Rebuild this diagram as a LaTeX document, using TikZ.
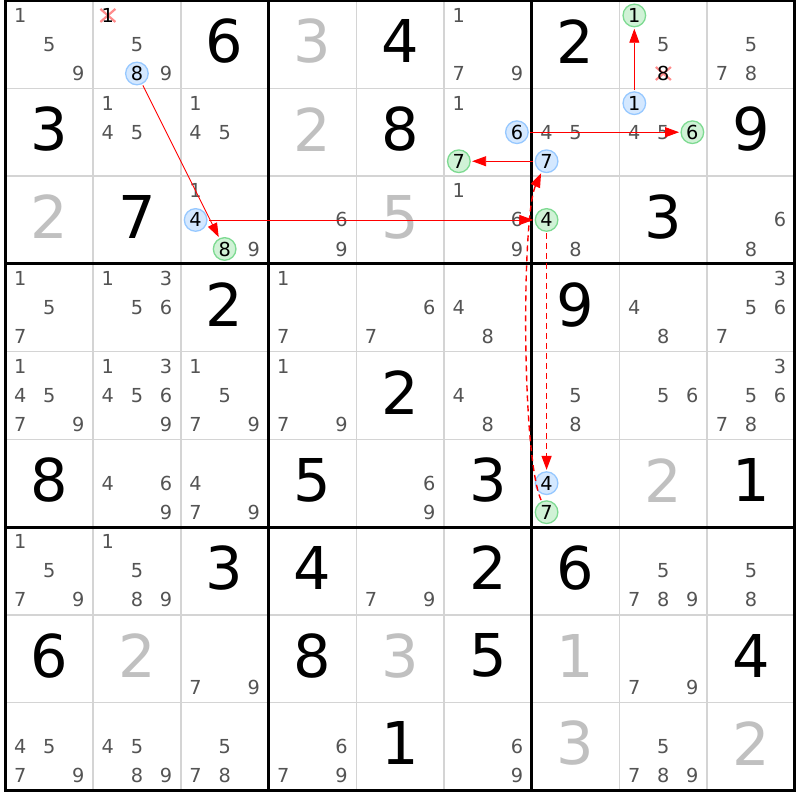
\documentclass[tikz,border=0pt]{standalone}
\usepackage{fontspec}
\setmainfont{DejaVu Sans}
\usetikzlibrary{arrows.meta}
\definecolor{candgray}{RGB}{84,84,84}
\definecolor{givgray}{RGB}{192,192,192}
\definecolor{gridgray}{RGB}{212,212,212}
\definecolor{bfill}{RGB}{212,232,255}
\definecolor{bdraw}{RGB}{150,200,255}
\definecolor{gfill}{RGB}{208,242,214}
\definecolor{gdraw}{RGB}{125,218,145}
\definecolor{linkred}{RGB}{255,0,0}
\definecolor{xred}{RGB}{255,140,140}
% candidates: row, col, list
\newcommand\cnd[3]{%
  \foreach \d in {#3}{%
    \pgfmathsetmacro\ox{#2+0.5+(mod(\d-1,3)-1)*0.3308}%
    \pgfmathsetmacro\oy{#1+0.5+(floor((\d-1)/3)-1)*0.3308}%
    \node[cand] (k#1#2\d) at (\ox,\oy) {\d};}}
% circled candidate: style, row, col, digit, name
\newcommand\circd[5]{%
  \pgfmathsetmacro\ox{#3+0.5+(mod(#4-1,3)-1)*0.3308}%
  \pgfmathsetmacro\oy{#2+0.5+(floor((#4-1)/3)-1)*0.3308}%
  \node[#1] (#5) at (\ox,\oy) {#4};}
% crossed-out candidate: row, col, digit, name
\newcommand\xcand[4]{%
  \pgfmathsetmacro\ox{#2+0.5+(mod(#3-1,3)-1)*0.3308}%
  \pgfmathsetmacro\oy{#1+0.5+(floor((#3-1)/3)-1)*0.3308}%
  \coordinate (#4) at (\ox,\oy);
  \draw[xred,line width=2.2pt] (#4) ++(-7.5pt,6.5pt) -- ++(15pt,-13pt);
  \draw[xred,line width=2.2pt] (#4) ++(-7.5pt,-6.5pt) -- ++(15pt,13pt);
  \node[cand,text=black] (#4d) at (#4) {#3};}
\begin{document}
\begin{tikzpicture}[x=87.74pt,y=-87.74pt,
  cand/.style={inner sep=0pt,text=candgray,font=\fontsize{19.3}{21}\selectfont},
  bigd/.style={inner sep=0pt,font=\fontsize{59}{62}\selectfont},
  bluec/.style={circle,draw=bdraw,fill=bfill,line width=1.3pt,minimum size=22.6pt,
    inner sep=0pt,outer sep=2pt,font=\fontsize{19.3}{21}\selectfont},
  greenc/.style={bluec,draw=gdraw,fill=gfill},
  link/.style={draw=linkred,line width=0.9pt,-{Triangle[length=14pt,width=10pt]}},
  dlink/.style={link,line width=1.4pt,dash pattern=on 6pt off 4pt}]
\fill[white] (-5.3pt,0.6pt) rectangle ++(800pt,-800pt);
\useasboundingbox (-5.3pt,0.6pt) rectangle ++(800pt,-800pt);
% grid
\foreach \i in {1,2,4,5,7,8}{
  \draw[gridgray,line width=1.5pt] (\i,0) -- (\i,9);
  \draw[gridgray,line width=1.5pt] (0,\i) -- (9,\i);}
\foreach \i in {3,6}{
  \draw[black,line width=3pt] (\i,0) -- (\i,9);
  \draw[black,line width=3pt] (0,\i) -- (9,\i);}
\draw[black,line width=3pt] (0,0) rectangle (9,9);
% solved / given digits
\foreach \r/\c/\d in {0/2/6,0/4/4,0/6/2,1/0/3,1/4/8,1/8/9,2/1/7,2/7/3,3/2/2,3/6/9,
  4/4/2,5/0/8,5/3/5,5/5/3,5/8/1,6/2/3,6/3/4,6/5/2,6/6/6,7/0/6,7/3/8,7/5/5,7/8/4,8/4/1}
  \node[bigd] (g\r\c) at (\c+0.5,\r+0.466) {\d};
\foreach \r/\c/\d in {0/3/3,1/3/2,2/0/2,2/4/5,5/7/2,7/1/2,7/4/3,7/6/1,8/6/3,8/8/2}
  \node[bigd,text=givgray] (g\r\c) at (\c+0.5,\r+0.466) {\d};
% candidates
\cnd{0}{0}{1,5,9}
\cnd{0}{1}{5,9}
\cnd{0}{5}{1,7,9}
\cnd{0}{7}{5}
\cnd{0}{8}{5,7,8}
\cnd{1}{1}{1,4,5}
\cnd{1}{2}{1,4,5}
\cnd{1}{5}{1}
\cnd{1}{6}{4,5}
\cnd{1}{7}{4,5}
\cnd{2}{2}{1,9}
\cnd{2}{3}{6,9}
\cnd{2}{5}{1,6,9}
\cnd{2}{6}{8}
\cnd{2}{8}{6,8}
\cnd{3}{0}{1,5,7}
\cnd{3}{1}{1,3,5,6}
\cnd{3}{3}{1,7}
\cnd{3}{4}{6,7}
\cnd{3}{5}{4,8}
\cnd{3}{7}{4,8}
\cnd{3}{8}{3,5,6,7}
\cnd{4}{0}{1,4,5,7,9}
\cnd{4}{1}{1,3,4,5,6,9}
\cnd{4}{2}{1,5,7,9}
\cnd{4}{3}{1,7,9}
\cnd{4}{5}{4,8}
\cnd{4}{6}{5,8}
\cnd{4}{7}{5,6}
\cnd{4}{8}{3,5,6,7,8}
\cnd{5}{1}{4,6,9}
\cnd{5}{2}{4,7,9}
\cnd{5}{4}{6,9}
\cnd{6}{0}{1,5,7,9}
\cnd{6}{1}{1,5,8,9}
\cnd{6}{4}{7,9}
\cnd{6}{7}{5,7,8,9}
\cnd{6}{8}{5,8}
\cnd{7}{2}{7,9}
\cnd{7}{7}{7,9}
\cnd{8}{0}{4,5,7,9}
\cnd{8}{1}{4,5,8,9}
\cnd{8}{2}{5,7,8}
\cnd{8}{3}{6,7,9}
\cnd{8}{5}{6,9}
\cnd{8}{7}{5,7,8,9}
% eliminated candidates
\xcand{0}{1}{1}{xa}
\xcand{0}{7}{8}{xb}
% chain candidates
\circd{bluec}{0}{1}{8}{b8}
\circd{greenc}{2}{2}{8}{g8}
\circd{bluec}{2}{2}{4}{b4}
\circd{greenc}{2}{6}{4}{g4}
\circd{bluec}{5}{6}{4}{b4b}
\circd{greenc}{5}{6}{7}{g7b}
\circd{bluec}{1}{6}{7}{b7}
\circd{greenc}{1}{5}{7}{g7}
\circd{bluec}{1}{5}{6}{b6}
\circd{greenc}{1}{7}{6}{g6}
\circd{bluec}{1}{7}{1}{b1}
\circd{greenc}{0}{7}{1}{g1}
% links
\draw[link] (b8) -- (g8);
\draw[link] (b4) -- (g4);
\draw[dlink] (g4) -- (b4b);
\draw[dlink] (g7b) .. controls +(-25pt,55pt) and +(-25pt,-55pt) .. (b7);
\draw[link] (b7) -- (g7);
\draw[link] (b6) -- (g6);
\draw[link] (b1) -- (g1);
\end{tikzpicture}
\end{document}
